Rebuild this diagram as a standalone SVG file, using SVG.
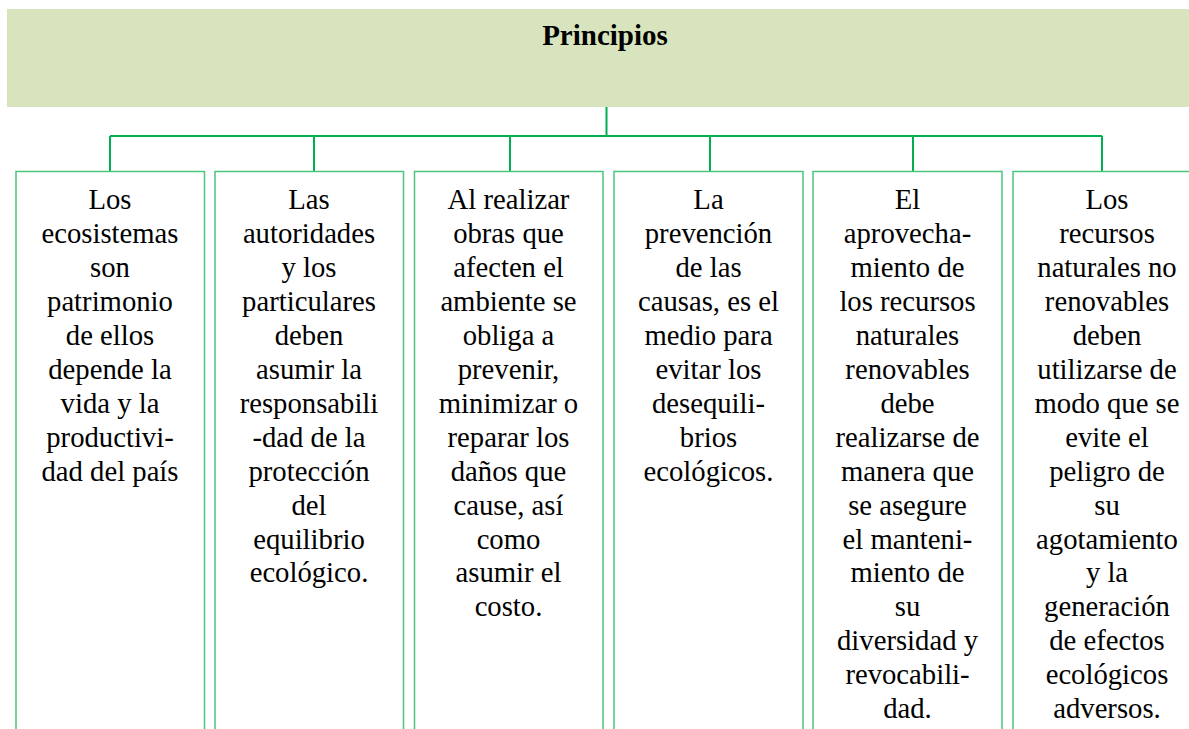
<svg xmlns="http://www.w3.org/2000/svg" width="1189" height="729" viewBox="0 0 1189 729">
<style>
.hdr{fill:#d8e4bd;stroke:none}
.ttl{font-family:"Liberation Serif","Times New Roman",serif;font-weight:bold;font-size:29px;fill:#000;text-anchor:middle}
.box{fill:#fff;stroke:#4cc47c;stroke-width:1.5}
.txt{font-family:"Liberation Serif","Times New Roman",serif;font-size:28.7px;fill:#000;text-anchor:middle}
.con{fill:none;stroke:#00b050;stroke-width:2}
</style>
<rect width="1189" height="729" fill="#fff"/>
<g id="header">
<rect class="hdr" x="7" y="9" width="1182" height="98"/>
<text class="ttl" x="605" y="45">Principios</text>
</g>
<g id="connectors">
<path class="con" d="M606.5 107 V137 M110 136 H1102 M110 136 V171.5 M314 136 V171.5 M510 136 V171.5 M710 136 V171.5 M913 136 V171.5 M1102 136 V171.5"/>
</g>
<g id="node1">
<rect class="box" x="16" y="171.5" width="188.5" height="570"/>
<text class="txt"><tspan x="110" y="209">Los</tspan><tspan x="110" y="243">ecosistemas</tspan><tspan x="110" y="277">son</tspan><tspan x="110" y="311">patrimonio</tspan><tspan x="110" y="345">de ellos</tspan><tspan x="110" y="378.5">depende la</tspan><tspan x="110" y="412.5">vida y la</tspan><tspan x="110" y="446.5">productivi-</tspan><tspan x="110" y="480.5">dad del país</tspan></text>
</g>
<g id="node2">
<rect class="box" x="215" y="171.5" width="188.5" height="570"/>
<text class="txt"><tspan x="309" y="209">Las</tspan><tspan x="309" y="243">autoridades</tspan><tspan x="309" y="277">y los</tspan><tspan x="309" y="311">particulares</tspan><tspan x="309" y="345">deben</tspan><tspan x="309" y="378.5">asumir la</tspan><tspan x="309" y="412.5">responsabili</tspan><tspan x="309" y="446.5">-dad de la</tspan><tspan x="309" y="480.5">protección</tspan><tspan x="309" y="514.5">del</tspan><tspan x="309" y="548.5">equilibrio</tspan><tspan x="309" y="582">ecológico.</tspan></text>
</g>
<g id="node3">
<rect class="box" x="414.5" y="171.5" width="188.5" height="570"/>
<text class="txt"><tspan x="508.5" y="209">Al realizar</tspan><tspan x="508.5" y="243">obras que</tspan><tspan x="508.5" y="277">afecten el</tspan><tspan x="508.5" y="311">ambiente se</tspan><tspan x="508.5" y="345">obliga a</tspan><tspan x="508.5" y="378.5">prevenir,</tspan><tspan x="508.5" y="412.5">minimizar o</tspan><tspan x="508.5" y="446.5">reparar los</tspan><tspan x="508.5" y="480.5">daños que</tspan><tspan x="508.5" y="514.5">cause, así</tspan><tspan x="508.5" y="548.5">como</tspan><tspan x="508.5" y="582">asumir el</tspan><tspan x="508.5" y="616">costo.</tspan></text>
</g>
<g id="node4">
<rect class="box" x="614" y="171.5" width="189" height="570"/>
<text class="txt"><tspan x="708.5" y="209">La</tspan><tspan x="708.5" y="243">prevención</tspan><tspan x="708.5" y="277">de las</tspan><tspan x="708.5" y="311">causas, es el</tspan><tspan x="708.5" y="345">medio para</tspan><tspan x="708.5" y="378.5">evitar los</tspan><tspan x="708.5" y="412.5">desequili-</tspan><tspan x="708.5" y="446.5">brios</tspan><tspan x="708.5" y="480.5">ecológicos.</tspan></text>
</g>
<g id="node5">
<rect class="box" x="813" y="171.5" width="189" height="570"/>
<text class="txt"><tspan x="907.5" y="209">El</tspan><tspan x="907.5" y="243">aprovecha-</tspan><tspan x="907.5" y="277">miento de</tspan><tspan x="907.5" y="311">los recursos</tspan><tspan x="907.5" y="345">naturales</tspan><tspan x="907.5" y="378.5">renovables</tspan><tspan x="907.5" y="412.5">debe</tspan><tspan x="907.5" y="446.5">realizarse de</tspan><tspan x="907.5" y="480.5">manera que</tspan><tspan x="907.5" y="514.5">se asegure</tspan><tspan x="907.5" y="548.5">el manteni-</tspan><tspan x="907.5" y="582">miento de</tspan><tspan x="907.5" y="616">su</tspan><tspan x="907.5" y="650">diversidad y</tspan><tspan x="907.5" y="684">revocabili-</tspan><tspan x="907.5" y="717.5">dad.</tspan></text>
</g>
<g id="node6">
<rect class="box" x="1013" y="171.5" width="189" height="570"/>
<text class="txt"><tspan x="1107" y="209">Los</tspan><tspan x="1107" y="243">recursos</tspan><tspan x="1107" y="277">naturales no</tspan><tspan x="1107" y="311">renovables</tspan><tspan x="1107" y="345">deben</tspan><tspan x="1107" y="378.5">utilizarse de</tspan><tspan x="1107" y="412.5">modo que se</tspan><tspan x="1107" y="446.5">evite el</tspan><tspan x="1107" y="480.5">peligro de</tspan><tspan x="1107" y="514.5">su</tspan><tspan x="1107" y="548.5">agotamiento</tspan><tspan x="1107" y="582">y la</tspan><tspan x="1107" y="616">generación</tspan><tspan x="1107" y="650">de efectos</tspan><tspan x="1107" y="684">ecológicos</tspan><tspan x="1107" y="717.5">adversos.</tspan></text>
</g>
</svg>
